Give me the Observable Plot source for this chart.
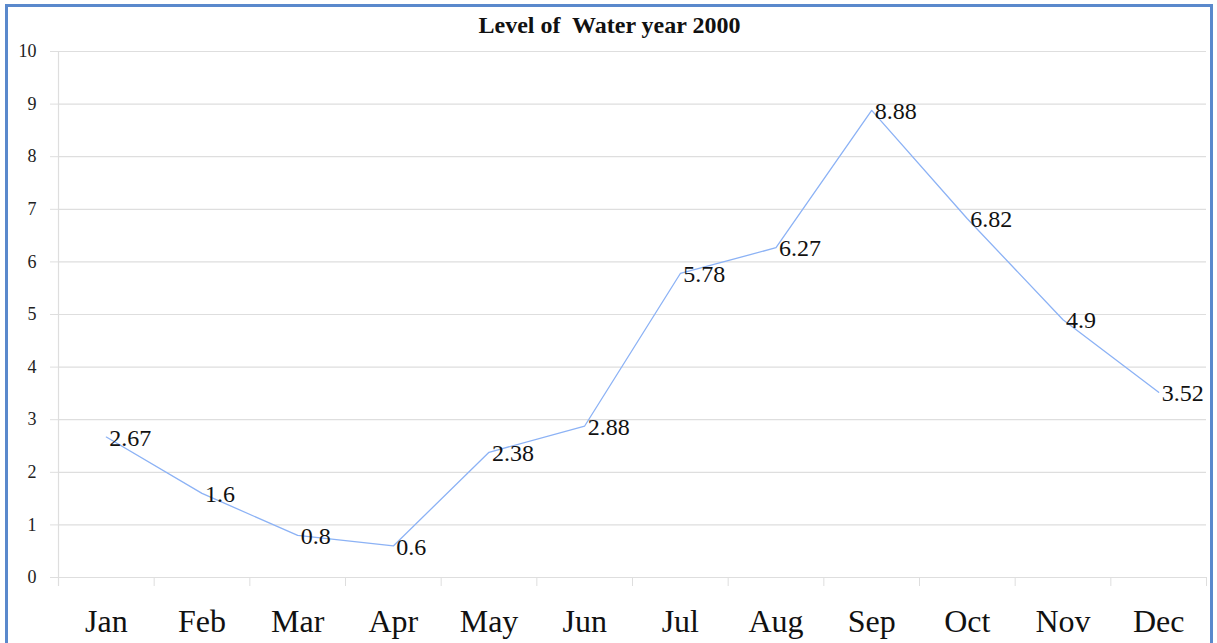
<!DOCTYPE html>
<html>
<head>
<meta charset="utf-8">
<script src="https://cdn.jsdelivr.net/npm/d3@7"></script>
<script src="https://cdn.jsdelivr.net/npm/@observablehq/plot@0.6"></script>
<style>
  html, body { margin: 0; padding: 0; background: #fff; }
  #wrap { position: relative; width: 1217px; height: 643px; overflow: hidden; }
  #frame { position: absolute; left: 5px; top: 4px; width: 1208px; height: 660px;
           border: 3px solid #5a89cc; box-sizing: border-box; pointer-events: none; }
  svg { display: block; }
</style>
</head>
<body>
<div id="wrap"><div id="chart"></div><div id="frame"></div></div>
<script>
const months = ["Jan","Feb","Mar","Apr","May","Jun","Jul","Aug","Sep","Oct","Nov","Dec"];
const levels = [2.67, 1.6, 0.8, 0.6, 2.38, 2.88, 5.78, 6.27, 8.88, 6.82, 4.9, 3.52];
const levelLabels = ["2.67","1.6","0.8","0.6","2.38","2.88","5.78","6.27","8.88","6.82","4.9","3.52"];
const yTicks = [0,1,2,3,4,5,6,7,8,9,10];
const title = "Level of\u00a0 Water year 2000";

const data = months.map((m, i) => ({month: m, pos: i + 0.5, value: levels[i], label: levelLabels[i]}));
const boundaries = d3.range(0, months.length + 1);

const serif = "'Liberation Serif', 'Times New Roman', serif";
const grid = "#dedede";

const chart = Plot.plot({
  width: 1217,
  height: 643,
  marginLeft: 58,
  marginRight: 11,
  marginTop: 51,
  marginBottom: 66,
  style: {fontFamily: serif, background: "transparent", overflow: "visible"},
  x: {domain: [0, 12], axis: null, label: null},
  y: {domain: [0, 10], axis: null, label: null},
  marks: [
    Plot.gridY(yTicks, {stroke: grid, strokeOpacity: 1, strokeWidth: 1.2}),
    Plot.axisY({ticks: yTicks, tickSize: 8, tickPadding: 14, stroke: grid, strokeOpacity: 1,
                fontSize: 18, fill: "#222", label: null, tickFormat: d => String(d)}),
    Plot.axisX({ticks: boundaries, tickSize: 9, tickFormat: () => "", label: null,
                stroke: grid, strokeOpacity: 1, anchor: "bottom"}),
    Plot.axisX(data.map(d => d.pos), {tickSize: 0, tickPadding: 32, fontSize: 32, fill: "#111",
                label: null, tickFormat: (d) => months[Math.floor(d)], anchor: "bottom"}),
    Plot.ruleY([0], {stroke: grid, strokeWidth: 1.2}),
    Plot.ruleX([0], {y1: 10, y2: 0, insetBottom: -9, stroke: grid, strokeWidth: 1.2}),
    Plot.line(data, {x: "pos", y: "value", stroke: "#8cb2f5", strokeWidth: 1.3}),
    Plot.text(data, {x: "pos", y: "value", text: "label", textAnchor: "start", dx: 3, dy: 1,
                     fontSize: 24, fill: "#111", lineAnchor: "middle"}),
    Plot.text([title], {frameAnchor: "top", dy: -36, dx: -23, text: d => d, fontSize: 24, fontWeight: "bold", fill: "#111"})
  ]
});
document.getElementById("chart").appendChild(chart);
</script>
</body>
</html>
